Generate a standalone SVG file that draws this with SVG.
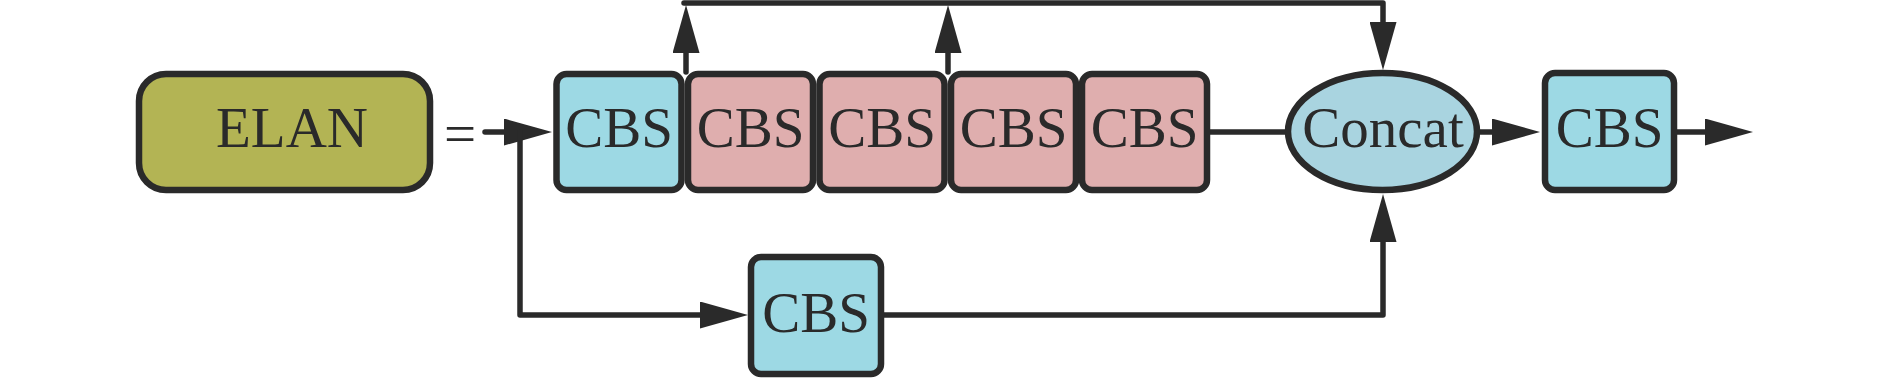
<svg xmlns="http://www.w3.org/2000/svg" width="1890" height="378" viewBox="0 0 1890 378">
<style>
.box{stroke:#2a2a2a;stroke-width:6.5}
.cyan{fill:#9dd9e4}
.pink{fill:#dfaeae}
.olive{fill:#b3b454}
.ell{fill:#a9d4e0}
.lbl{font-family:"Liberation Serif","Times New Roman",serif;font-size:57px;fill:#2a2a2a;text-anchor:middle}
.conn{fill:none;stroke:#2a2a2a;stroke-width:5.5;stroke-linejoin:round;stroke-linecap:round}
</style>
<defs>
<marker id="ah" markerUnits="userSpaceOnUse" markerWidth="48" markerHeight="27" refX="10" refY="13.5" orient="auto">
<path d="M0,0 L48,13.5 L0,27 Z" fill="#2a2a2a"/>
</marker>
</defs>
<rect width="1890" height="378" fill="#ffffff"/>
<g id="connectors">
<path class="conn" d="M485,132 H514" marker-end="url(#ah)"/>
<path class="conn" d="M520,132 V315 H710" marker-end="url(#ah)"/>
<path class="conn" d="M686,72 V43" marker-end="url(#ah)"/>
<path class="conn" d="M948,72 V43" marker-end="url(#ah)"/>
<path class="conn" d="M684,3 H1383 V32" marker-end="url(#ah)"/>
<path class="conn" d="M1210,132 H1285"/>
<path class="conn" d="M1480,132 H1502" marker-end="url(#ah)"/>
<path class="conn" d="M1677,132 H1715" marker-end="url(#ah)"/>
<path class="conn" d="M884,315 H1383 V232" marker-end="url(#ah)"/>
</g>
<g id="elan">
<rect class="box olive" x="139" y="74" width="291" height="116" rx="27"/>
<text class="lbl" x="292" y="147">ELAN</text>
</g>
<g id="equals">
<text class="lbl" x="460" y="153">=</text>
</g>
<g id="cbs1">
<rect class="box cyan" x="556.5" y="74" width="125" height="116" rx="10"/>
<text class="lbl" x="619" y="147">CBS</text>
</g>
<g id="cbs2">
<rect class="box pink" x="688" y="74" width="125" height="116" rx="10"/>
<text class="lbl" x="750.5" y="147">CBS</text>
</g>
<g id="cbs3">
<rect class="box pink" x="819.5" y="74" width="125" height="116" rx="10"/>
<text class="lbl" x="882" y="147">CBS</text>
</g>
<g id="cbs4">
<rect class="box pink" x="951" y="74" width="125" height="116" rx="10"/>
<text class="lbl" x="1013.5" y="147">CBS</text>
</g>
<g id="cbs5">
<rect class="box pink" x="1082" y="74" width="125" height="116" rx="10"/>
<text class="lbl" x="1144.5" y="147">CBS</text>
</g>
<g id="concat">
<ellipse class="box ell" cx="1382.5" cy="131.5" rx="94.5" ry="58.5"/>
<text class="lbl" x="1383" y="147">Concat</text>
</g>
<g id="cbs_out">
<rect class="box cyan" x="1545" y="73" width="129" height="117" rx="10"/>
<text class="lbl" x="1609.5" y="147">CBS</text>
</g>
<g id="cbs_bottom">
<rect class="box cyan" x="751" y="257" width="130" height="117" rx="10"/>
<text class="lbl" x="816" y="332">CBS</text>
</g>
</svg>
